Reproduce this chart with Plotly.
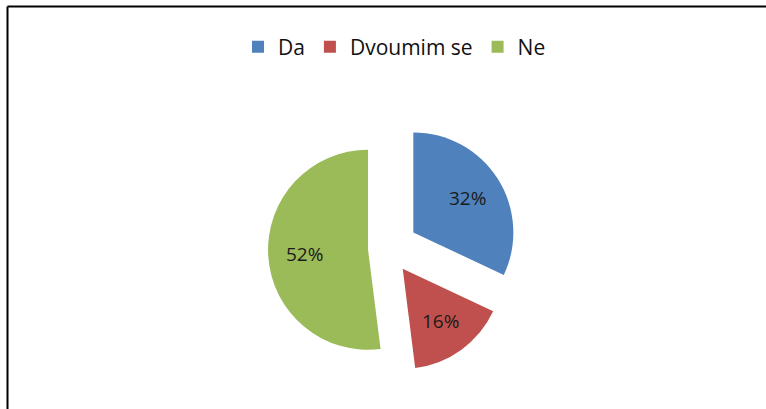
import math
import plotly.graph_objects as go

# Survey answers and their shares (percent)
labels = ["Da", "Dvoumim se", "Ne"]
values = [32, 16, 52]
colors = ["#4F81BD", "#C0504D", "#9BBB59"]
pulls = [0.30, 0.25, 0.20]

W, H = 766, 409

# Pie placement in pixels: centre and radius of the un-exploded pie
cx, cy, radius = 388.0, 248.5, 100.0
half = radius * (1 + max(pulls))
dom_x = [(cx - half) / W, (cx + half) / W]
dom_y = [1 - (cy + half) / H, 1 - (cy - half) / H]

fig = go.Figure(
    go.Pie(
        labels=labels,
        values=values,
        marker=dict(colors=colors, line=dict(width=0)),
        pull=pulls,
        sort=False,
        direction="clockwise",
        rotation=0,
        textinfo="none",
        domain=dict(x=dom_x, y=dom_y),
        showlegend=True,
        hoverinfo="label+percent",
    )
)

# Percentage labels, placed along each slice's bisector
total = sum(values)
start = 0.0
for val, pull in zip(values, pulls):
    frac = val / total
    theta = 2 * math.pi * (start + frac / 2)
    dx, dy = math.sin(theta), -math.cos(theta)
    dist = radius * (pull + 0.64)
    px, py = cx + dist * dx, cy + dist * dy
    fig.add_annotation(
        x=px / W, y=1 - py / H, xref="paper", yref="paper",
        text=f"{round(frac * 100)}%", showarrow=False,
        font=dict(family="Open Sans, sans-serif", size=19, color="#1a1a1a"),
        xanchor="center", yanchor="middle",
    )
    start += frac

# Frame: top and left edges only
fig.add_shape(type="line", xref="paper", yref="paper",
              x0=7.5 / W, x1=1, y0=1 - 6.5 / H, y1=1 - 6.5 / H,
              line=dict(color="black", width=2))
fig.add_shape(type="line", xref="paper", yref="paper",
              x0=7.5 / W, x1=7.5 / W, y0=0, y1=1 - 6.5 / H,
              line=dict(color="black", width=2))

fig.update_layout(
    width=W,
    height=H,
    margin=dict(l=0, r=0, t=0, b=0),
    paper_bgcolor="white",
    plot_bgcolor="white",
    legend=dict(
        orientation="h",
        x=238 / W,
        xanchor="left",
        y=1 - 47 / H,
        yanchor="middle",
        font=dict(family="Open Sans, sans-serif", size=21, color="#111111"),
        itemwidth=30,
        bgcolor="rgba(0,0,0,0)",
    ),
)

fig.write_html("out.html")
